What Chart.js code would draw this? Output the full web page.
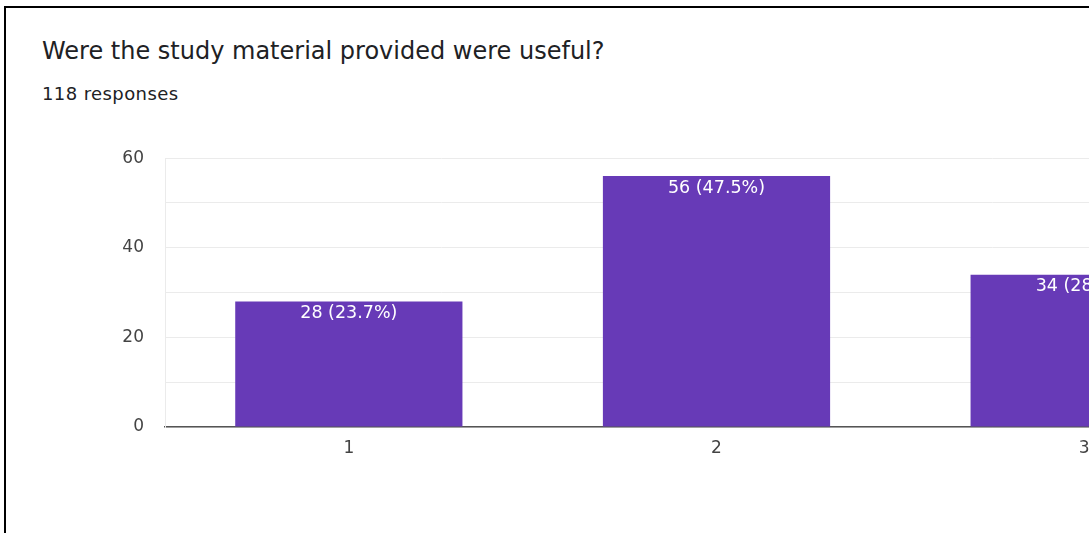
<!DOCTYPE html>
<html lang="en">
<head>
  <meta charset="UTF-8" />
  <title>Study material survey</title>
  <script src="https://cdn.jsdelivr.net/npm/chart.js"></script>
  <style>
    html, body { margin: 0; padding: 0; background: #fff; overflow: hidden; width: 1089px; height: 533px; }
    .card { position: absolute; left: 4px; top: 6px; width: 1200px; height: 600px;
            border-top: 2px solid #000; border-left: 2px solid #000; }
    .title { position: absolute; left: 42px; top: 39px; margin: 0; font: 24px/24px "DejaVu Sans", sans-serif; color: #202124; white-space: nowrap; }
    .sub { position: absolute; left: 42px; top: 85px; margin: 0; font: 18px/18px "DejaVu Sans", sans-serif; letter-spacing: 0.4px; color: #202124; white-space: nowrap; }
    .chart-box { position: absolute; left: 0; top: 127px; width: 1290px; height: 340px; }
  </style>
</head>
<body>
  <div class="card"></div>
  <div class="title">Were the study material provided were useful?</div>
  <div class="sub">118 responses</div>
  <div class="chart-box"><canvas id="chart"></canvas></div>

  <script>
    const categories = ["1", "2", "3"];
    const counts = [28, 56, 34];
    const totalResponses = 118;
    const yTicks = [0, 20, 40, 60];

    // white "n (p%)" label just inside the top of each bar
    const barLabels = {
      id: "barLabels",
      afterDatasetsDraw(chart) {
        const ctx = chart.ctx;
        const meta = chart.getDatasetMeta(0);
        ctx.save();
        ctx.fillStyle = "#fff";
        ctx.font = "17.5px 'DejaVu Sans', sans-serif";
        ctx.textAlign = "center";
        ctx.textBaseline = "middle";
        meta.data.forEach((bar, i) => {
          const pct = (counts[i] / totalResponses * 100).toFixed(1);
          ctx.fillText(counts[i] + " (" + pct + "%)", bar.x, bar.y + 12);
        });
        ctx.restore();
      }
    };

    new Chart(document.getElementById("chart"), {
      type: "bar",
      data: {
        labels: categories,
        datasets: [{
          data: counts,
          backgroundColor: "#673ab7",
          categoryPercentage: 1,
          barPercentage: 0.618
        }]
      },
      options: {
        responsive: true,
        maintainAspectRatio: false,
        animation: false,
        layout: { padding: { top: 6, right: 22, bottom: 0, left: 0 } },
        plugins: { legend: { display: false }, tooltip: { enabled: false } },
        scales: {
          x: {
            grid: { display: false, drawTicks: false },
            border: { color: "#555", width: 1.5 },
            ticks: { color: "#444", padding: 11, font: { family: "'DejaVu Sans'", size: 17 } },
            afterFit: s => { s.height = 40; }
          },
          y: {
            min: 0, max: 60,
            grid: { color: "#ebebeb", drawTicks: false },
            border: { color: "#ebebeb" },
            ticks: {
              stepSize: 10,
              color: "#444",
              padding: 21,
              font: { family: "'DejaVu Sans'", size: 17 },
              callback: v => yTicks.includes(v) ? String(v) : ""
            },
            afterFit: s => { s.width = 165; }
          }
        }
      },
      plugins: [barLabels]
    });
  </script>
</body>
</html>
